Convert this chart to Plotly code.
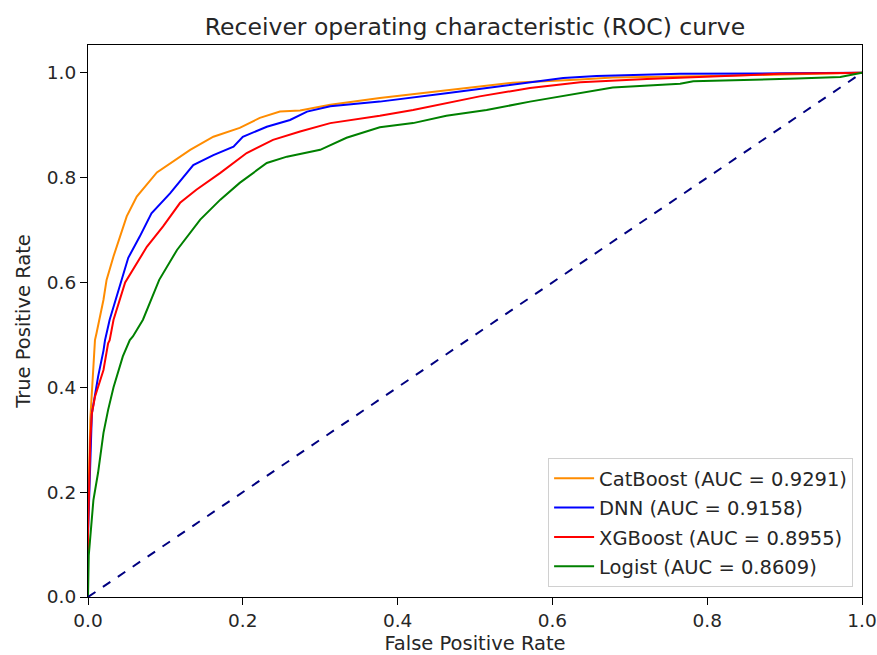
import plotly.graph_objects as go

# ---- data ----
cat_fpr = [0, 0, 0.003, 0.007, 0.009, 0.011, 0.02, 0.024, 0.033, 0.05, 0.063, 0.089, 0.132, 0.162,
           0.196, 0.222, 0.248, 0.274, 0.313, 0.377, 0.463, 0.549, 0.636, 0.678, 0.808, 0.9, 1.0]
cat_tpr = [0, 0.15, 0.34, 0.44, 0.49, 0.503, 0.567, 0.605, 0.65, 0.726, 0.764, 0.81, 0.853, 0.878,
           0.895, 0.914, 0.926, 0.928, 0.939, 0.952, 0.966, 0.981, 0.987, 0.991, 0.994, 0.997, 1.0]

dnn_fpr = [0, 0, 0.005, 0.013, 0.02, 0.022, 0.028, 0.033, 0.035, 0.052, 0.067, 0.082, 0.106, 0.136,
           0.162, 0.188, 0.2, 0.231, 0.261, 0.283, 0.313, 0.377, 0.463, 0.549, 0.614, 0.657, 0.765, 0.9, 1.0]
dnn_tpr = [0, 0.12, 0.35, 0.42, 0.47, 0.49, 0.529, 0.554, 0.567, 0.647, 0.688, 0.732, 0.77, 0.824,
           0.843, 0.859, 0.878, 0.897, 0.91, 0.926, 0.936, 0.945, 0.961, 0.977, 0.99, 0.994, 0.998, 0.999, 1.0]

xgb_fpr = [0, 0, 0.003, 0.005, 0.009, 0.013, 0.02, 0.026, 0.028, 0.033, 0.041, 0.048, 0.076, 0.097,
           0.119, 0.14, 0.171, 0.205, 0.239, 0.274, 0.313, 0.377, 0.42, 0.463, 0.506, 0.571, 0.636,
           0.722, 0.808, 0.894, 1.0]
xgb_tpr = [0, 0.12, 0.3, 0.35, 0.382, 0.4, 0.433, 0.484, 0.49, 0.529, 0.567, 0.6, 0.668, 0.707,
           0.752, 0.777, 0.809, 0.847, 0.872, 0.888, 0.904, 0.918, 0.929, 0.942, 0.955, 0.971, 0.982,
           0.988, 0.993, 0.998, 1.0]

log_fpr = [0, 0.001, 0.007, 0.013, 0.02, 0.026, 0.033, 0.037, 0.045, 0.054, 0.058, 0.071, 0.082,
           0.092, 0.115, 0.145, 0.171, 0.196, 0.231, 0.257, 0.3, 0.334, 0.377, 0.42, 0.463, 0.515,
           0.571, 0.636, 0.678, 0.765, 0.782, 0.916, 0.972, 1.0]
log_tpr = [0, 0.08, 0.185, 0.237, 0.313, 0.357, 0.4, 0.42, 0.459, 0.49, 0.497, 0.529, 0.567,
           0.605, 0.662, 0.72, 0.758, 0.79, 0.828, 0.84, 0.853, 0.876, 0.896, 0.904, 0.918, 0.929,
           0.945, 0.961, 0.972, 0.979, 0.984, 0.989, 0.992, 1.0]

diag = [0, 1]

series = [
    ("CatBoost (AUC = 0.9291)", cat_fpr, cat_tpr, "#ff8c00"),
    ("DNN (AUC = 0.9158)", dnn_fpr, dnn_tpr, "#0000ff"),
    ("XGBoost (AUC = 0.8955)", xgb_fpr, xgb_tpr, "#ff0000"),
    ("Logist (AUC = 0.8609)", log_fpr, log_tpr, "#008000"),
]

FONT = "DejaVu Sans"
TXT = "#262626"

fig = go.Figure()
for i, (name, x, y, c) in enumerate(series):
    fig.add_trace(go.Scatter(x=x, y=y, mode="lines", name=name, legendgroup=f"g{i}",
                             line=dict(color=c, width=2)))
fig.add_trace(go.Scatter(x=diag, y=diag, mode="lines", showlegend=False,
                         line=dict(color="#000080", width=2, dash="dash")))

axis_common = dict(
    showgrid=False, zeroline=False, showline=True, linecolor="black", linewidth=1.2,
    mirror=True, ticks="outside", ticklen=7, tickcolor="black", tickwidth=1.2,
    tickformat=".1f", dtick=0.2, automargin=False,
    tickfont=dict(family=FONT, size=18.5, color=TXT),
)

fig.update_layout(
    width=877, height=655,
    paper_bgcolor="white", plot_bgcolor="white",
    margin=dict(l=88, r=15, t=45, b=58),
    title=dict(text="Receiver operating characteristic (ROC) curve",
               font=dict(family=FONT, size=23.5, color=TXT),
               x=(88 + (877 - 15)) / 2 / 877, xanchor="center", y=1 - 27 / 655, yanchor="middle"),
    xaxis=dict(range=[0, 1], title=dict(text="False Positive Rate", standoff=6,
                                        font=dict(family=FONT, size=19.5, color=TXT)),
               **axis_common),
    yaxis=dict(range=[0, 1.053], title=dict(text="True Positive Rate", standoff=10,
                                            font=dict(family=FONT, size=19.5, color=TXT)),
               **axis_common),
    legend=dict(x=0.9885, y=0.018, xanchor="right", yanchor="bottom",
                bgcolor="rgba(255,255,255,0.8)", bordercolor="#d0d0d0", borderwidth=1,
                font=dict(family=FONT, size=19.5, color=TXT),
                tracegroupgap=1, itemwidth=40),
    showlegend=True,
)

fig.write_html("out.html")
